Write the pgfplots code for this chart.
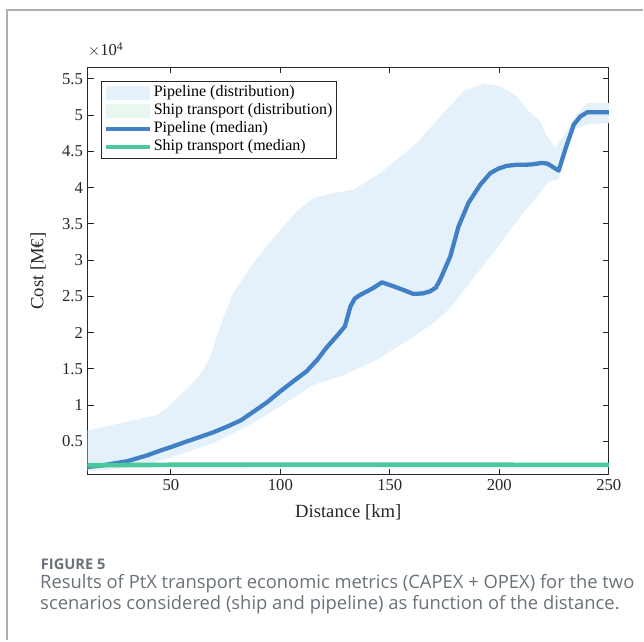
\documentclass[border=0pt]{standalone}
\usepackage{fontspec}
\setmainfont{Liberation Serif}
\newfontfamily\capfont{Open Sans}
\usepackage{pgfplots}
\usepackage{pgfplotstable}
\pgfplotsset{compat=1.18}
\usepgfplotslibrary{fillbetween}
\definecolor{bandblue}{RGB}{228,241,251}
\definecolor{bandgreen}{RGB}{232,248,238}
\definecolor{lineblue}{RGB}{66,128,198}
\definecolor{linegreen}{RGB}{76,201,154}
\definecolor{capgray}{RGB}{105,113,122}
\definecolor{framegray}{RGB}{175,175,175}

\pgfplotstableread{
x y
12 1470
18 1650
24 1950
30 2250
39 3050
45 3700
51 4310
56 4850
62 5470
69 6200
76 7070
82 7900
88 9140
94 10400
100 11900
106 13300
112 14660
117 16300
121 17900
126 19600
129.5 20860
132 23600
134 24700
136.5 25200
142.5 26160
146.4 26930
151.7 26380
156 25900
160.8 25330
165 25400
168.4 25690
171 26200
173 27300
177.6 30500
181.4 34660
185.9 37880
191.3 40400
195.9 42000
199.5 42600
203.5 43000
208 43150
214.1 43170
219.5 43400
222 43300
227.1 42340
230.5 45600
234 48680
237 49800
240.1 50380
245 50400
250 50380
}\pipemed

\pgfplotstableread{
x y
12 6520
18 6900
24 7300
30 7700
36 8100
43.5 8600
48 9500
52.7 11000
58 12400
63.3 14200
67.1 16000
72.5 20860
78.5 25470
87.7 29600
96.8 33050
107.5 36700
115.1 38570
124.2 39260
133.4 39700
145.6 42000
162.4 46160
173 49800
183.7 53280
192.8 54340
200.4 53970
208.1 52600
212.6 50750
218.7 49140
221.8 47070
225.6 45470
229.4 47070
234 49600
240.1 51670
250 51670
}\pipeup

\pgfplotstableread{
x y
12 900
25 1200
39 1800
54.2 3170
69.4 4780
84.7 7070
99.9 9830
115.1 12800
127 13900
142.5 16000
157.8 18800
170 21330
177.6 23400
188.2 27540
198.9 31670
209.6 36030
218.7 39260
222.5 40860
227.1 41100
230.9 45200
234 48000
240.1 48680
250 48900
}\pipelo

\pgfplotstableread{
x y
12 1700
50 1760
100 1790
150 1780
200 1760
250 1750
}\shipmed

\pgfplotstableread{
x y
12 1820
50 1880
100 1910
150 1900
200 1880
250 1870
}\shipup

\pgfplotstableread{
x y
12 1580
50 1640
100 1670
150 1660
200 1640
250 1630
}\shiplo

\begin{document}
\begin{tikzpicture}
\draw[framegray, line width=0.8pt] (5.25pt,0pt) -- (5.25pt,473.25pt) -- (483pt,473.25pt);
\begin{axis}[
  name=ax,
  at={(65.78pt,124.28pt)}, anchor=south west,
  width=391.2pt, height=306pt, scale only axis,
  xmin=12, xmax=250, ymin=370, ymax=56600,
  xtick={50,100,150,200,250},
  ytick={5000,10000,15000,20000,25000,30000,35000,40000,45000,50000,55000},
  yticklabels={0.5,1,1.5,2,2.5,3,3.5,4,4.5,5,5.5},
  scaled y ticks=false,
  /pgf/number format/assume math mode=true,
  tick align=inside, xtick pos=both, ytick pos=both,
  major tick length=4.5pt,
  axis line style={line width=0.9pt, black!85},
  tick style={line width=0.8pt, black!85},
  ticklabel style={font=\fontsize{12.5}{14}\selectfont, text=black!85},
  xlabel={Distance [km]}, ylabel={Cost [M€]},
  label style={font=\fontsize{14}{16}\selectfont, text=black!85},
  x label style={at={(axis description cs:0.5,-0.092)}, anchor=center},
  y label style={at={(axis description cs:-0.095,0.5)}, anchor=center},
  legend style={at={(axis description cs:0.025,0.967)}, anchor=north west,
    draw=black!85, line width=0.8pt, fill=white,
    font=\fontsize{12}{13.5}\selectfont,
    nodes={inner sep=1pt, text height=8.5pt, text depth=3pt},
    inner xsep=2pt, inner ysep=2pt},
  legend cell align=left,
]
\addplot[draw=none, name path=pu, forget plot] table {\pipeup};
\addplot[draw=none, name path=pl, forget plot] table {\pipelo};
\addplot[fill=bandblue, draw=none,
  legend image code/.code={\fill[bandblue] (0pt,-5pt) rectangle (33pt,5pt);}]
  fill between[of=pu and pl];
\addlegendentry{Pipeline (distribution)}
\addplot[draw=none, name path=su, forget plot] table {\shipup};
\addplot[draw=none, name path=sl, forget plot] table {\shiplo};
\addplot[fill=bandgreen, draw=none,
  legend image code/.code={\fill[bandgreen] (0pt,-5pt) rectangle (33pt,5pt);}]
  fill between[of=su and sl];
\addlegendentry{Ship transport (distribution)}
\addplot[lineblue, line width=3.2pt, line join=round,
  legend image code/.code={\draw[lineblue, line width=3.2pt] (0pt,0pt) -- (33pt,0pt);}]
  table {\pipemed};
\addlegendentry{Pipeline (median)}
\addplot[linegreen, line width=3.5pt, line join=round,
  legend image code/.code={\draw[linegreen, line width=3.5pt] (0pt,0pt) -- (33pt,0pt);}]
  table {\shipmed};
\addlegendentry{Ship transport (median)}
\end{axis}
\node[anchor=base west, font=\fontsize{12.5}{14}\selectfont, text=black!85, inner sep=0pt, yshift=8.5pt]
  at (ax.north west) {$\times$10\textsuperscript{4}};
\node[anchor=base west, inner sep=0pt, text=capgray, font=\capfont\bfseries\fontsize{11}{13}\selectfont] at (30.5pt,53.25pt) {FIGURE 5};
\node[anchor=base west, inner sep=0pt, text=capgray, font=\capfont\fontsize{13.8}{15}\selectfont] at (30pt,39pt) {Results of PtX transport economic metrics (CAPEX + OPEX) for the two};
\node[anchor=base west, inner sep=0pt, text=capgray, font=\capfont\fontsize{13.8}{15}\selectfont] at (30pt,23.5pt) {scenarios considered (ship and pipeline) as function of the distance.};
\path (0pt,0pt) rectangle (483pt,480.75pt);
\end{tikzpicture}
\end{document}
